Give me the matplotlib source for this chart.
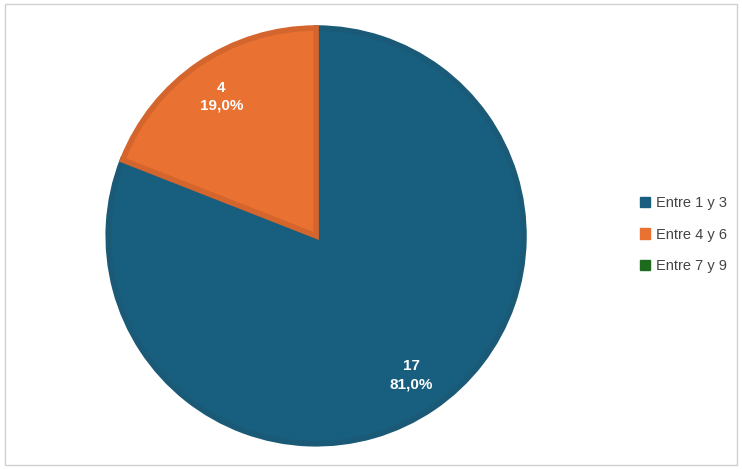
import matplotlib
matplotlib.use("Agg")
import matplotlib.pyplot as plt
from matplotlib.patches import Rectangle, Patch

plt.rcParams["font.family"] = ["Liberation Sans", "DejaVu Sans"]

labels = ["Entre 1 y 3", "Entre 4 y 6", "Entre 7 y 9"]
values = [17, 4, 0]
colors = ["#175e7f", "#e97132", "#1e6b1e"]
edges = ["#1a5a77", "#d4652c", "#1e6b1e"]

total = sum(values)

fig = plt.figure(figsize=(7.42, 4.69), dpi=100)
fig.patches.append(Rectangle((0.007, 0.009), 0.986, 0.982, transform=fig.transFigure,
                             fill=False, edgecolor="#d0d0d0", linewidth=1))

ax = fig.add_axes([0.143, 0.049, 0.566, 0.896])

def fmt(pct):
    n = round(pct * total / 100)
    if n == 0:
        return ""
    return "%d\n%s%%" % (n, ("%.1f" % pct).replace(".", ","))

wedges, texts, autotexts = ax.pie(values, colors=colors, startangle=90, counterclock=False,
                                  autopct=fmt, pctdistance=0.81, radius=0.99,
                                  textprops=dict(color="white", fontsize=11, fontweight="bold",
                                                 linespacing=1.4))
for w, e, v in zip(wedges, edges, values):
    w.set_edgecolor(e)
    w.set_linewidth(4 if v > 0 else 0)
ax.set_xlim(-1, 1)
ax.set_ylim(-1, 1)
ax.set_aspect("equal")

handles = [Patch(facecolor=c, edgecolor=c, label=l) for c, l in zip(colors, labels)]
fig.legend(handles=handles, loc="center left", bbox_to_anchor=(0.845, 0.5), frameon=False,
           fontsize=10.5, handlelength=0.7, handleheight=0.7, handletextpad=0.4,
           labelspacing=1.2, labelcolor="#444444")

fig.savefig("out.png", dpi=100)
